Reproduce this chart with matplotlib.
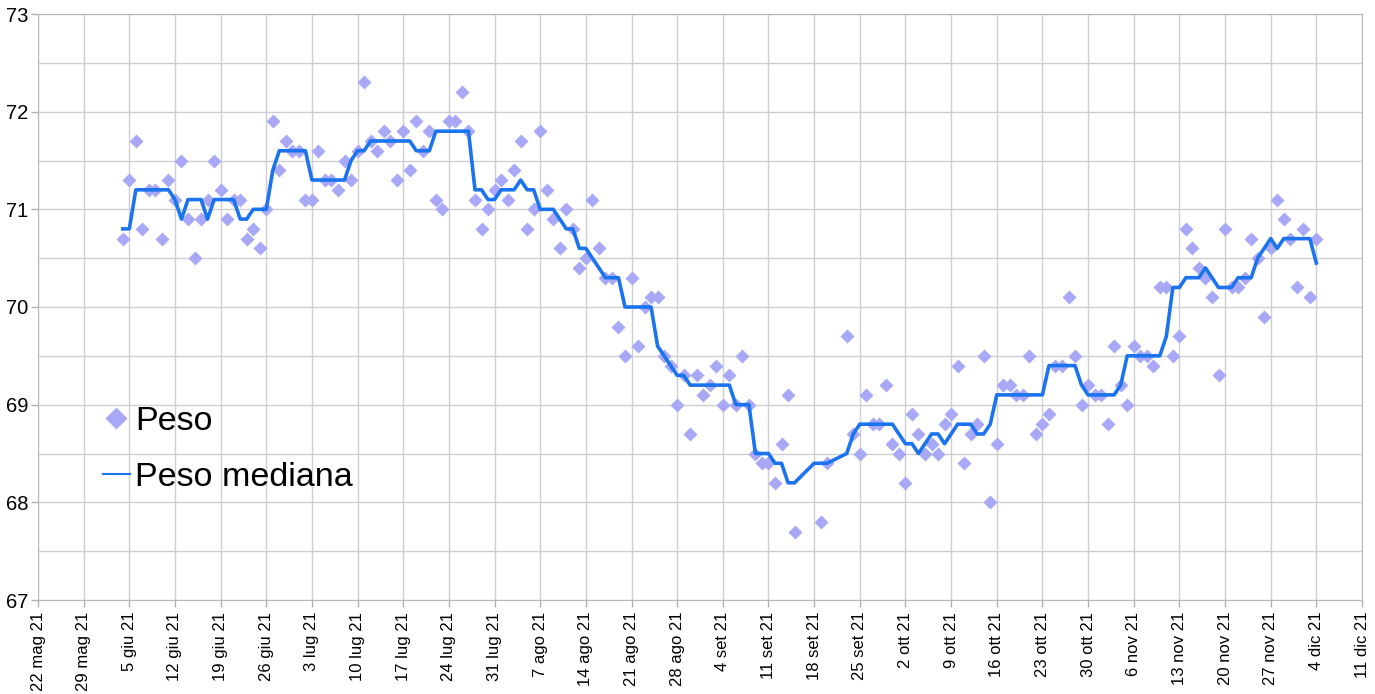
import matplotlib
matplotlib.use("Agg")
import matplotlib.pyplot as plt
from matplotlib.lines import Line2D
import numpy as np
import pandas as pd

# dati: un valore al giorno dal 4 giu 21, None = giorno senza misura
inizio = "2021-06-04"
peso = [70.7, 71.3, 71.7, 70.8, 71.2, 71.2, 70.7, 71.3, 71.1, 71.5,
        70.9, 70.5, 70.9, 71.1, 71.5, 71.2, 70.9, 71.1, 71.1, 70.7,
        70.8, 70.6, 71.0, 71.9, 71.4, 71.7, 71.6, 71.6, 71.1, 71.1,
        71.6, 71.3, 71.3, 71.2, 71.5, 71.3, 71.6, 72.3, 71.7, 71.6,
        71.8, 71.7, 71.3, 71.8, 71.4, 71.9, 71.6, 71.8, 71.1, 71.0,
        71.9, 71.9, 72.2, 71.8, 71.1, 70.8, 71.0, 71.2, 71.3, 71.1,
        71.4, 71.7, 70.8, 71.0, 71.8, 71.2, 70.9, 70.6, 71.0, 70.8,
        70.4, 70.5, 71.1, 70.6, 70.3, 70.3, 69.8, 69.5, 70.3, 69.6,
        70.0, 70.1, 70.1, 69.5, 69.4, 69.0, 69.3, 68.7, 69.3, 69.1,
        69.2, 69.4, 69.0, 69.3, 69.0, 69.5, 69.0, 68.5, 68.4, 68.4,
        68.2, 68.6, 69.1, 67.7, None, None, None, 67.8, 68.4, None,
        None, 69.7, 68.7, 68.5, 69.1, 68.8, 68.8, 69.2, 68.6, 68.5,
        68.2, 68.9, 68.7, 68.5, 68.6, 68.5, 68.8, 68.9, 69.4, 68.4,
        68.7, 68.8, 69.5, 68.0, 68.6, 69.2, 69.2, 69.1, 69.1, 69.5,
        68.7, 68.8, 68.9, 69.4, 69.4, 70.1, 69.5, 69.0, 69.2, 69.1,
        69.1, 68.8, 69.6, 69.2, 69.0, 69.6, 69.5, 69.5, 69.4, 70.2,
        70.2, 69.5, 69.7, 70.8, 70.6, 70.4, 70.3, 70.1, 69.3, 70.8,
        70.2, 70.2, 70.3, 70.7, 70.5, 69.9, 70.6, 71.1, 70.9, 70.7,
        70.2, 70.8, 70.1, 70.7]

# mediana mobile (stessi giorni), None = nessun vertice
mediana = [70.8, 70.8, 71.2, 71.2, 71.2, 71.2, 71.2, 71.2, 71.1, 70.9,
           71.1, 71.1, 71.1, 70.9, 71.1, 71.1, 71.1, 71.1, 70.9, 70.9,
           71.0, 71.0, 71.0, 71.4, 71.6, 71.6, 71.6, 71.6, 71.6, 71.3,
           71.3, 71.3, 71.3, 71.3, 71.3, 71.5, 71.6, 71.6, 71.7, 71.7,
           71.7, 71.7, 71.7, 71.7, 71.7, 71.6, 71.6, 71.6, 71.8, 71.8,
           71.8, 71.8, 71.8, 71.8, 71.2, 71.2, 71.1, 71.1, 71.2, 71.2,
           71.2, 71.3, 71.2, 71.2, 71.0, 71.0, 71.0, 70.9, 70.8, 70.8,
           70.6, 70.6, 70.5, 70.4, 70.3, 70.3, 70.3, 70.0, 70.0, 70.0,
           70.0, 70.0, 69.6, 69.5, 69.4, 69.3, 69.3, 69.2, 69.2, 69.2,
           69.2, 69.2, 69.2, 69.2, 69.0, 69.0, 69.0, 68.5, 68.5, 68.5,
           68.4, 68.4, 68.2, 68.2, None, None, 68.4, 68.4, 68.4, None,
           None, 68.5, 68.7, 68.8, 68.8, 68.8, 68.8, 68.8, 68.8, 68.7,
           68.6, 68.6, 68.5, 68.6, 68.7, 68.7, 68.6, 68.7, 68.8, 68.8,
           68.8, 68.7, 68.7, 68.8, 69.1, 69.1, 69.1, 69.1, 69.1, 69.1,
           69.1, 69.1, 69.4, 69.4, 69.4, 69.4, 69.4, 69.2, 69.1, 69.1,
           69.1, 69.1, 69.1, 69.2, 69.5, 69.5, 69.5, 69.5, 69.5, 69.5,
           69.7, 70.2, 70.2, 70.3, 70.3, 70.3, 70.4, 70.3, 70.2, 70.2,
           70.2, 70.3, 70.3, 70.3, 70.5, 70.6, 70.7, 70.6, 70.7, 70.7,
           70.7, 70.7, 70.7, 70.45]

mesi = ["gen", "feb", "mar", "apr", "mag", "giu", "lug", "ago", "set", "ott", "nov", "dic"]

giorni = pd.date_range(inizio, periods=len(peso), freq="D")
y_peso = np.array([np.nan if v is None else v for v in peso])
y_med = np.array([np.nan if v is None else v for v in mediana])
ok = ~np.isnan(y_med)

col_punti = "#a8a8f6"
col_linea = "#1b74ee"

fig = plt.figure(figsize=(13.75, 6.94), dpi=100)
ax = fig.add_axes([38/1375, 1-600/694, (1362-38)/1375, (600-14)/694])

ax.plot(giorni, y_peso, "D", color=col_punti, ms=7.5, mec="none", zorder=3)
ax.plot(giorni[ok], y_med[ok], "-", color=col_linea, lw=2.6, zorder=4)

ax.set_ylim(67, 73)
ax.set_xlim(pd.Timestamp("2021-05-22"), pd.Timestamp("2021-12-11"))
sett = pd.date_range("2021-05-22", "2021-12-11", freq="7D")
ax.set_xticks(sett)
ax.set_xticklabels(["%d %s 21" % (d.day, mesi[d.month-1]) for d in sett],
                   rotation=90, fontsize=12, family="Liberation Sans")
ax.set_yticks(range(67, 74))
ax.set_yticks(np.arange(67.5, 73, 1), minor=True)
for t in ax.get_yticklabels():
    t.set_fontsize(14.5)
    t.set_family("Liberation Sans")
ax.grid(True, which="both", color="#cfcfcf", lw=1)
ax.tick_params(which="both", color="#b0b0b0", length=5, width=1)
ax.tick_params(axis="y", which="minor", length=0)
ax.tick_params(axis="y", pad=2)
for sp in ax.spines.values():
    sp.set_color("#b8b8b8")
ax.set_axisbelow(True)

maniglie = [Line2D([], [], ls="none", marker="D", color=col_punti, ms=11, mec="none"),
            Line2D([], [], ls="-", color=col_linea, lw=1.5)]
ax.legend(maniglie, ["Peso", "Peso mediana"], loc="center left",
          bbox_to_anchor=(0.049, 0.257), frameon=False, borderpad=0, borderaxespad=0,
          prop={"family": "Liberation Sans", "size": 24.5}, handlelength=0.8,
          handletextpad=0.15, labelspacing=0.75)

fig.savefig("out.png", dpi=100)
